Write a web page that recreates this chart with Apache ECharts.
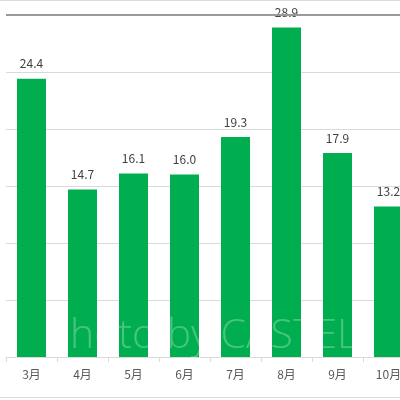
<!DOCTYPE html>
<html><head><meta charset="utf-8">
<script src="https://cdn.jsdelivr.net/npm/echarts@6/dist/echarts.min.js"></script>
<style>html,body{margin:0;padding:0;background:#fff}#c{width:400px;height:400px}</style>
</head><body><div id="c"></div>
<script>
const categories = ['3月','4月','5月','6月','7月','8月','9月','10月'];
const values = [24.4, 14.7, 16.1, 16.0, 19.3, 28.9, 17.9, 13.2];
const yTicks = [0, 5, 10, 15, 20, 25, 30];

const chart = echarts.init(document.getElementById('c'), null, {renderer:'canvas'});
chart.setOption({
  animation: false,
  backgroundColor: '#fff',
  textStyle: { fontFamily: '"Noto Sans CJK JP", "Noto Sans", sans-serif' },
  grid: { left: 6, width: 408, top: 15, height: 342, outerBoundsMode: 'none', containLabel: false },
  xAxis: {
    type: 'category',
    data: categories,
    axisLine: { lineStyle: { color: '#d9d9d9', width: 1 } },
    axisTick: { show: true, length: 5, lineStyle: { color: '#d9d9d9' } },
    axisLabel: { color: '#595959', fontSize: 12, margin: 11 }
  },
  yAxis: {
    type: 'value',
    min: yTicks[0], max: yTicks[yTicks.length-1], interval: 5,
    axisLine: { show: false }, axisTick: { show: false },
    axisLabel: { show: false },
    splitLine: { lineStyle: { color: '#d9d9d9', width: 1 } }
  },
  series: [{
    type: 'bar',
    data: values,
    barWidth: 29,
    itemStyle: { color: '#00ae4f' },
    label: { show: true, position: 'top', distance: 9, color: '#404040', fontSize: 12,
      formatter: p => p.value.toFixed(1) },
    markLine: {
      silent: true, symbol: 'none', label: { show: false },
      lineStyle: { color: '#9a9a9a', width: 2, type: 'solid' },
      data: [{ yAxis: yTicks[yTicks.length-1] }]
    }
  }],
  graphic: [
    { type: 'line', shape: { x1: 0, y1: 0.5, x2: 400, y2: 0.5 },
      style: { stroke: '#dcdcdc', lineWidth: 1 }, z: 1, silent: true },
    { type: 'line', shape: { x1: 0, y1: 397.5, x2: 400, y2: 397.5 },
      style: { stroke: '#dcdcdc', lineWidth: 1 }, z: 1, silent: true },
    { type: 'text', x: 46, y: 316, z: 100, silent: true,
      style: { text: 'Photo by CASTEL', fill: 'rgba(255,255,255,0.28)',
        font: '300 41px "Open Sans", Lato, sans-serif' } }
  ]
});
</script></body></html>
